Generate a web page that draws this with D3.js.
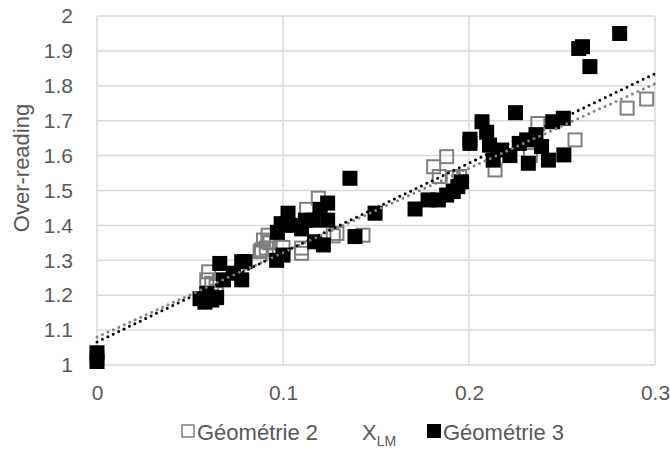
<!DOCTYPE html>
<html>
<head>
<meta charset="utf-8">
<script src="https://cdn.jsdelivr.net/npm/d3@7"></script>
<style>
  body { margin: 0; background: #fff; }
  text { font-family: "Liberation Sans", Arial, sans-serif; fill: #595959; }
</style>
</head>
<body>
<svg id="chart" width="670" height="450"></svg>
<script>
// Géométrie 2 (open grey squares)
var geo2X = [0, 0.059, 0.06, 0.0617, 0.064, 0.0643, 0.0877, 0.0885, 0.0895, 0.091, 0.092, 0.092, 0.093,
             0.1, 0.11, 0.11, 0.1127, 0.119, 0.127, 0.129, 0.143,
             0.181, 0.184, 0.188, 0.1915, 0.195, 0.214, 0.233, 0.237, 0.257, 0.285, 0.2955];
var geo2Y = [1.02, 1.244, 1.267, 1.234, 1.225, 1.205, 1.325, 1.33, 1.358, 1.335, 1.353, 1.372, 1.35,
             1.337, 1.335, 1.32, 1.446, 1.478, 1.37, 1.377, 1.372,
             1.568, 1.54, 1.597, 1.537, 1.54, 1.559, 1.60, 1.692, 1.645, 1.736, 1.762];

// Géométrie 3 (filled black squares)
var geo3X = [0, 0, 0.0554, 0.058, 0.059, 0.0617, 0.0643, 0.066, 0.068, 0.0733, 0.0778, 0.0778, 0.0796,
             0.0966, 0.097, 0.099, 0.1, 0.1027, 0.105, 0.11, 0.112, 0.116, 0.117, 0.12, 0.1217, 0.124, 0.124,
             0.136, 0.1387, 0.1495,
             0.171, 0.178, 0.1835, 0.188, 0.1915, 0.194, 0.196,
             0.2005, 0.2005, 0.207, 0.2095, 0.211, 0.213, 0.2175, 0.222, 0.225, 0.227, 0.231, 0.2319,
             0.236, 0.239, 0.2427, 0.245, 0.2507, 0.251, 0.259, 0.261, 0.265, 0.281];
var geo3Y = [1.01, 1.035, 1.19, 1.18, 1.205, 1.186, 1.193, 1.291, 1.244, 1.263, 1.296, 1.244, 1.296,
             1.30, 1.38, 1.405, 1.315, 1.435, 1.40, 1.39, 1.415, 1.415, 1.353, 1.446, 1.344, 1.464, 1.415,
             1.535, 1.368, 1.435,
             1.447, 1.473, 1.473, 1.487, 1.497, 1.511, 1.525,
             1.647, 1.635, 1.697, 1.667, 1.63, 1.587, 1.616, 1.60, 1.723, 1.635, 1.645, 1.578,
             1.66, 1.626, 1.587, 1.697, 1.707, 1.602, 1.907, 1.912, 1.855, 1.95];

// linear trendlines [intercept, slope]
var trend2 = [1.08, 2.42];
var trend3 = [1.066, 2.563];

var xTicks = [0, 0.1, 0.2, 0.3];
var yTicks = [1, 1.1, 1.2, 1.3, 1.4, 1.5, 1.6, 1.7, 1.8, 1.9, 2];

var margin = { top: 16, right: 15, bottom: 85, left: 97 },
    width = 670 - margin.left - margin.right,
    height = 450 - margin.top - margin.bottom;

var svg = d3.select("#chart");
var g = svg.append("g").attr("transform", "translate(" + margin.left + "," + margin.top + ")");

var x = d3.scaleLinear().domain([0, 0.3]).range([0, width]);
var y = d3.scaleLinear().domain([1, 2]).range([height, 0]);

// gridlines
g.append("g").selectAll("line").data(yTicks).enter().append("line")
    .attr("x1", 0).attr("x2", width)
    .attr("y1", d => y(d)).attr("y2", d => y(d))
    .attr("stroke", "#d9d9d9").attr("stroke-width", 1.5);
g.append("g").selectAll("line").data(xTicks).enter().append("line")
    .attr("x1", d => x(d)).attr("x2", d => x(d))
    .attr("y1", 0).attr("y2", height)
    .attr("stroke", "#d9d9d9").attr("stroke-width", 1.5);

// axes (labels only)
var yAxis = g.append("g").call(d3.axisLeft(y).tickValues(yTicks).tickSize(0).tickPadding(24).tickFormat(d3.format("")));
var xAxis = g.append("g").attr("transform", "translate(0," + height + ")")
    .call(d3.axisBottom(x).tickValues(xTicks).tickSize(0).tickPadding(20).tickFormat(d3.format("")));
[yAxis, xAxis].forEach(function(a) {
    a.select(".domain").remove();
    a.selectAll("text").attr("font-size", "21px").attr("fill", "#595959")
      .style("font-family", "Liberation Sans, Arial, sans-serif");
});

// markers
var sz = 15;
g.append("g").selectAll("rect").data(geo2X).enter().append("rect")
    .attr("x", (d) => x(d) - (sz - 2) / 2)
    .attr("y", (d, i) => y(geo2Y[i]) - (sz - 2) / 2)
    .attr("width", sz - 2).attr("height", sz - 2)
    .attr("fill", "none").attr("stroke", "#7f7f7f").attr("stroke-width", 2);

g.append("g").selectAll("rect").data(geo3X).enter().append("rect")
    .attr("x", (d) => x(d) - sz / 2)
    .attr("y", (d, i) => y(geo3Y[i]) - sz / 2)
    .attr("width", sz).attr("height", sz)
    .attr("fill", "#000");

// dotted trendlines
function trendLine(t, color) {
    g.append("line")
        .attr("x1", x(0)).attr("y1", y(t[0]))
        .attr("x2", x(0.3)).attr("y2", y(t[0] + t[1] * 0.3))
        .attr("stroke", color).attr("stroke-width", 3)
        .attr("stroke-linecap", "round")
        .attr("stroke-dasharray", "0 6");
}
trendLine(trend2, "#808080");
trendLine(trend3, "#000");

// y title
svg.append("text")
    .attr("transform", "translate(29,168) rotate(-90)")
    .attr("text-anchor", "middle")
    .attr("font-size", "22px")
    .text("Over-reading");

// legend + x title
var ly = 432;
svg.append("rect").attr("x", 182).attr("y", ly - 7).attr("width", 12).attr("height", 12)
    .attr("fill", "none").attr("stroke", "#7f7f7f").attr("stroke-width", 1.5);
svg.append("text").attr("x", 197).attr("y", ly + 8).attr("font-size", "22px").text("Géométrie 2");

var xt = svg.append("text").attr("x", 362).attr("y", ly + 8).attr("font-size", "22px");
xt.append("tspan").text("X");
xt.append("tspan").attr("font-size", "14px").attr("dy", 6).text("LM");

svg.append("rect").attr("x", 427).attr("y", ly - 8).attr("width", 14).attr("height", 14)
    .attr("fill", "#000");
svg.append("text").attr("x", 443).attr("y", ly + 8).attr("font-size", "22px").text("Géométrie 3");
</script>
</body>
</html>
